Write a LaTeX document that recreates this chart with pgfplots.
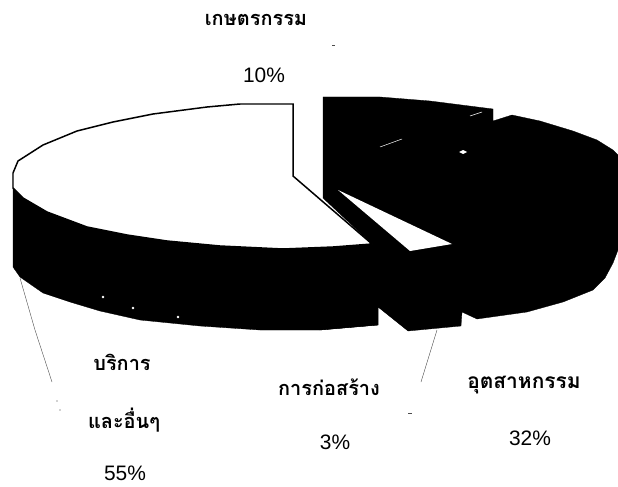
\documentclass[border=0pt]{standalone}
\usepackage{fontspec}
\setmainfont{Liberation Sans}
\newfontfamily\thaifont[Script=Thai]{Loma}
\usepackage{pgfplots}
\pgfplotsset{compat=1.18}
\begin{document}
\begin{tikzpicture}
\begin{axis}[
  at={(0,0)}, anchor=south west,
  width=618bp, height=487bp, scale only axis,
  xmin=0, xmax=618, ymin=0, ymax=487, y dir=reverse,
  hide axis, clip=true,
]
% corner points so the page keeps the full size
\addplot[white, opacity=0, forget plot] coordinates {(0,0)(618,487)};
% right block: industry, agriculture, construction, all printed solid black
\addplot[fill=black, draw=black, line width=0.3pt] coordinates {
  (323,97)(380,97)(430,101)(493,109)(493,121)(512,115)(540,121)(573,131)(597,140)(613,150)(618,155)
  (618,250)(613,263)(605,278)(593,290)(563,302)(527,312)(477,319)(462,312)(461,326)(408,331)(378,307)(378,325)
  (320,330)(372,244)(323,198)(323,97)
} -- cycle;
% services side wall
\addplot[fill=black, draw=black, line width=0.3pt] coordinates {
  (13,173)(13,267)(20,277)(43,293)(70,302)(100,311)(140,320)(200,326)(260,330)(320,330)(378,325)(378,240)(13,173)
} -- cycle;
% services top
\addplot[fill=white, draw=black, line width=1.5pt] coordinates {
  (13,173)(18,161)(43,145)(77,131)(113,122)(153,114)(207,107)(240,104)(293,104)(293,176)(372,244)
  (333,247)(283,249)(220,246)(167,241)(127,235)(87,227)(47,212)(23,198)(13,188)(13,173)
} -- cycle;
% construction top sliver
\addplot[fill=white, draw=none] coordinates {(338,190)(452,244)(410,251)} -- cycle;
% scan specks
\addplot[fill=white, draw=none] coordinates {(459,152)(463,150)(467,152)(463,154)} -- cycle;
\addplot[white, line width=0.5pt] coordinates {(380,147)(402,139)};
\addplot[white, line width=0.5pt] coordinates {(470,116)(482,112)};
\addplot[only marks, mark=*, mark size=1pt, white] coordinates {(103,297)(133,308)(178,317)};
% leader lines
\addplot[black!70, line width=0.4pt] coordinates {(20,278)(35,330)(52,382)};
\addplot[black!70, line width=0.4pt] coordinates {(437,330)(421,382)};
\addplot[black!70, line width=0.5pt] coordinates {(332,45)(335,45)};
\addplot[black!70, line width=0.5pt] coordinates {(408,413)(412,413)};
\addplot[only marks, mark=*, mark size=0.3pt, black!60] coordinates {(57,401)(60,410)};
% labels
\node[font=\thaifont\fontsize{20}{20}\selectfont\bfseries] at (axis cs:256,20) {เกษตรกรรม};
\node[font=\fontsize{21}{22}\selectfont] at (axis cs:264,75) {10\%};
\node[font=\thaifont\fontsize{20}{20}\selectfont\bfseries] at (axis cs:122,362) {บริการ};
\node[font=\thaifont\fontsize{20}{20}\selectfont\bfseries] at (axis cs:124,420) {และอื่นๆ};
\node[font=\fontsize{21}{22}\selectfont] at (axis cs:125,473) {55\%};
\node[font=\thaifont\fontsize{20}{20}\selectfont\bfseries] at (axis cs:329,387) {การก่อสร้าง};
\node[font=\fontsize{21}{22}\selectfont] at (axis cs:335,442) {3\%};
\node[font=\thaifont\fontsize{21}{21}\selectfont\bfseries] at (axis cs:524,385) {อุตสาหกรรม};
\node[font=\fontsize{21}{22}\selectfont] at (axis cs:530,438) {32\%};
\end{axis}
\end{tikzpicture}
\end{document}
